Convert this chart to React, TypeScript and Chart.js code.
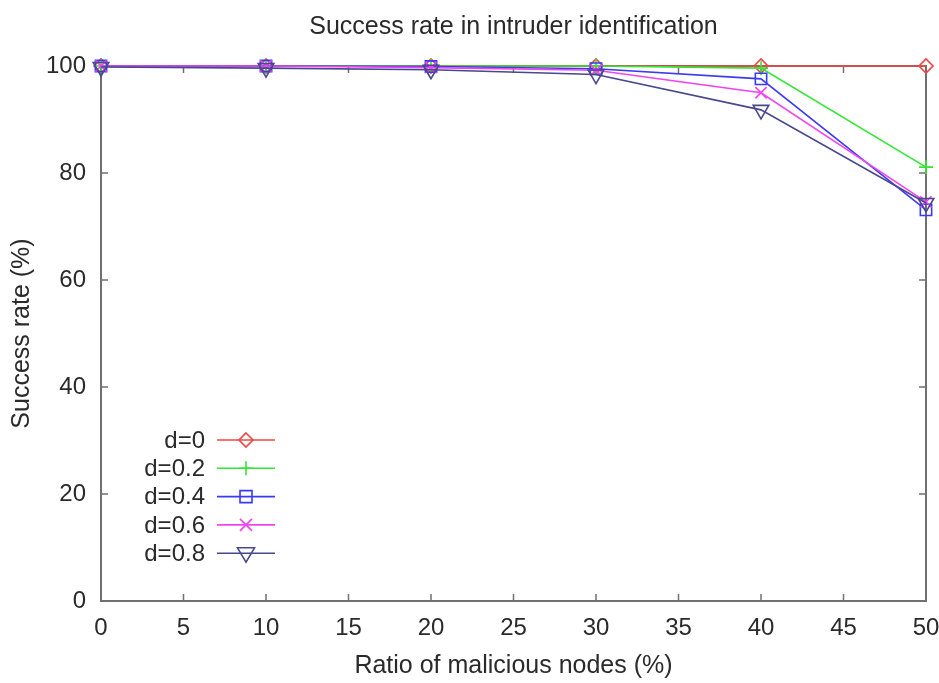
import React, { useEffect, useRef } from "react";
import { Chart, registerables } from "chart.js";

Chart.register(...registerables);

const chartTitle = "Success rate in intruder identification";
const xValues = [0, 10, 20, 30, 40, 50];
const seriesLabels = ["d=0", "d=0.2", "d=0.4", "d=0.6", "d=0.8"];
const d0 = [100, 100, 100, 100, 100, 100];
const d02 = [100, 100, 100, 100, 99.6, 81.1];
const d04 = [100, 100, 99.9, 99.5, 97.6, 73.1];
const d06 = [100, 100, 99.7, 99.2, 95.0, 74.6];
const d08 = [99.8, 99.6, 99.3, 98.4, 91.8, 74.4];
const xTicks = [0, 5, 10, 15, 20, 25, 30, 35, 40, 45, 50];
const yTicks = [0, 20, 40, 60, 80, 100];

const colors = ["#f04444", "#33e633", "#3a3af5", "#f044f0", "#48488c"];
const pointStyles = ["rectRot", "cross", "rect", "crossRot", "triangle"];
const pointRotations = [0, 0, 0, 0, 180];
const pointRadii = [7, 7, 8, 8, 9];
const seriesData = [d0, d02, d04, d06, d08];

const FONT = "'Liberation Sans', Arial, sans-serif";
const TEXT = "#2a2a2a";

function drawMarker(ctx: CanvasRenderingContext2D, style: string, x: number, y: number, r: number, rot: number, color: string) {
  ctx.save();
  ctx.strokeStyle = color;
  ctx.lineWidth = 1.6;
  ctx.translate(x, y);
  ctx.rotate((rot * Math.PI) / 180);
  ctx.beginPath();
  if (style === "rectRot") {
    ctx.moveTo(0, -r);
    ctx.lineTo(r, 0);
    ctx.lineTo(0, r);
    ctx.lineTo(-r, 0);
    ctx.closePath();
  } else if (style === "cross") {
    ctx.moveTo(0, -r);
    ctx.lineTo(0, r);
    ctx.moveTo(-r, 0);
    ctx.lineTo(r, 0);
  } else if (style === "rect") {
    const s = r * 0.75;
    ctx.rect(-s, -s, 2 * s, 2 * s);
  } else if (style === "crossRot") {
    const s = r * 0.75;
    ctx.moveTo(-s, -s);
    ctx.lineTo(s, s);
    ctx.moveTo(-s, s);
    ctx.lineTo(s, -s);
  } else if (style === "triangle") {
    const h = r;
    ctx.moveTo(0, -h);
    ctx.lineTo(h * 0.95, h * 0.6);
    ctx.lineTo(-h * 0.95, h * 0.6);
    ctx.closePath();
  }
  ctx.stroke();
  ctx.restore();
}

const framePlugin = {
  id: "frame",
  beforeDatasetsDraw(chart: any) {
    const { ctx, chartArea: a, scales } = chart;
    ctx.save();
    ctx.strokeStyle = "#707070";
    ctx.lineWidth = 2;
    ctx.strokeRect(a.left, a.top, a.right - a.left, a.bottom - a.top);
    ctx.lineWidth = 1.5;
    const tl = 7;
    for (const v of xTicks) {
      const px = scales.x.getPixelForValue(v);
      ctx.beginPath();
      ctx.moveTo(px, a.bottom);
      ctx.lineTo(px, a.bottom - tl);
      ctx.moveTo(px, a.top);
      ctx.lineTo(px, a.top + tl);
      ctx.stroke();
    }
    for (const v of yTicks) {
      const py = scales.y.getPixelForValue(v);
      ctx.beginPath();
      ctx.moveTo(a.left, py);
      ctx.lineTo(a.left + tl, py);
      ctx.moveTo(a.right, py);
      ctx.lineTo(a.right - tl, py);
      ctx.stroke();
    }
    ctx.restore();
  },
  afterDraw(chart: any) {
    const { ctx, chartArea: a } = chart;
    ctx.save();
    // title centred over the plot area
    ctx.font = `25px ${FONT}`;
    ctx.fillStyle = TEXT;
    ctx.textAlign = "center";
    ctx.textBaseline = "middle";
    ctx.fillText(chartTitle, (a.left + a.right) / 2, 27);

    ctx.font = `24px ${FONT}`;
    ctx.textBaseline = "middle";
    ctx.textAlign = "right";
    const textX = 205;
    const lineX1 = 217;
    const lineX2 = 275;
    const y0 = 440;
    const step = 28.3;
    seriesLabels.forEach((lab, i) => {
      const y = y0 + i * step;
      ctx.fillStyle = TEXT;
      ctx.fillText(lab, textX, y + 1);
      ctx.strokeStyle = colors[i];
      ctx.lineWidth = 1.6;
      ctx.beginPath();
      ctx.moveTo(lineX1, y);
      ctx.lineTo(lineX2, y);
      ctx.stroke();
      const cx = 246;
      drawMarker(ctx, pointStyles[i], cx, y, pointRadii[i], pointRotations[i], colors[i]);
    });
    ctx.restore();
  },
};

export default function App() {
  const ref = useRef<HTMLCanvasElement>(null);
  useEffect(() => {
    document.body.style.margin = "0";
    const datasets = seriesLabels.map((lab, i) => ({
      label: lab,
      data: xValues.map((x, j) => ({ x, y: seriesData[i][j] })),
      borderColor: colors[i],
      backgroundColor: "rgba(0,0,0,0)",
      borderWidth: 1.6,
      pointStyle: pointStyles[i] as any,
      pointRotation: pointRotations[i],
      pointRadius: pointRadii[i],
      pointBorderColor: colors[i],
      pointBorderWidth: 1.6,
      pointBackgroundColor: "rgba(0,0,0,0)",
      order: 4 - i,
      tension: 0,
      clip: false as any,
    }));
    const chart = new Chart(ref.current!, {
      type: "line",
      data: { datasets },
      options: {
        animation: false,
        responsive: false,
        layout: { padding: { left: 0, right: 13, top: 66, bottom: 0 } },
        plugins: {
          legend: { display: false },
          tooltip: { enabled: false },
          title: { display: false },
        },
        scales: {
          x: {
            type: "linear",
            min: 0,
            max: 50,
            afterBuildTicks: (s: any) => {
              s.ticks = xTicks.map((v) => ({ value: v }));
            },
            afterFit: (s: any) => {
              s.height = 82;
              s.paddingRight = 0;
              s.paddingLeft = 0;
            },
            grid: { display: false, drawTicks: false },
            border: { display: false },
            ticks: {
              color: TEXT,
              font: { family: FONT, size: 24 },
              padding: 13,
              maxRotation: 0,
              autoSkip: false,
            },
            title: {
              display: true,
              text: "Ratio of malicious nodes (%)",
              color: TEXT,
              font: { family: FONT, size: 25, lineHeight: 1.2 },
              padding: { top: 0, bottom: 2 },
            },
          },
          y: {
            type: "linear",
            min: 0,
            max: 100,
            afterBuildTicks: (s: any) => {
              s.ticks = yTicks.map((v) => ({ value: v }));
            },
            afterFit: (s: any) => {
              s.width = 101;
              s.paddingTop = 0;
              s.paddingBottom = 0;
            },
            grid: { display: false, drawTicks: false },
            border: { display: false },
            ticks: {
              color: TEXT,
              font: { family: FONT, size: 24 },
              padding: 15,
            },
            title: {
              display: true,
              text: "Success rate (%)",
              color: TEXT,
              font: { family: FONT, size: 25, lineHeight: 1.2 },
              padding: { top: 7, bottom: 0 },
            },
          },
        },
      },
      plugins: [framePlugin],
    });
    return () => chart.destroy();
  }, []);
  return (
    <div style={{ width: 939, height: 683, background: "#fff" }}>
      <canvas ref={ref} width={939} height={683} />
    </div>
  );
}
